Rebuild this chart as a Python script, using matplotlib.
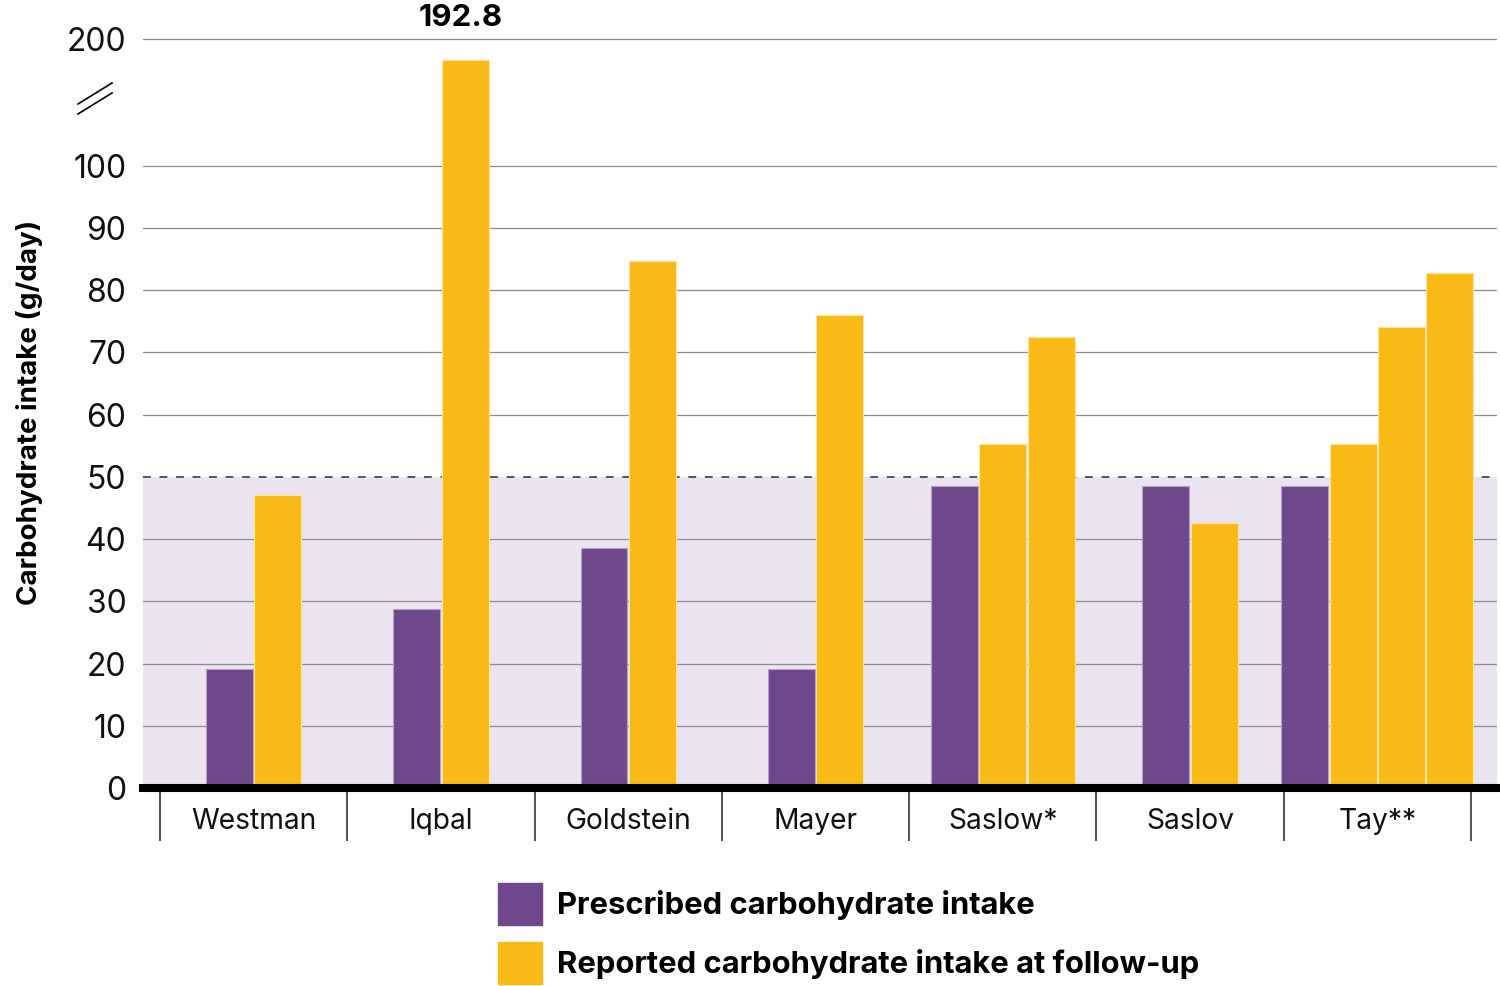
import numpy as np
import matplotlib.pyplot as plt
from matplotlib.patches import Patch
from matplotlib.lines import Line2D

studies = ['Westman', 'Iqbal', 'Goldstein', 'Mayer', 'Saslow*', 'Saslov', 'Tay**']
prescribed = [19.1, 28.7, 38.6, 19.1, 48.5, 48.5, 48.5]
reported = [[47.1], [192.8], [84.7], [76.0], [55.3, 72.5], [42.5], [55.3, 74.1, 82.7]]
yticks = [0, 10, 20, 30, 40, 50, 60, 70, 80, 90, 100, 200]
cutoff = 50

purple = '#6f478d'
yellow = '#fbb916'
shade = '#eae4f0'

plt.rcParams['font.family'] = ['Inter', 'DejaVu Sans']

# broken axis: 100..157 is cut out, above that a squeezed linear part
CUT_LO, CUT_HI, EPS, K = 100.0, 157.0, 0.001, 0.472

def fwd(y):
    y = np.asarray(y, dtype=float)
    mid = CUT_LO + (y - CUT_LO) * EPS
    top = CUT_LO + (CUT_HI - CUT_LO) * EPS + (y - CUT_HI) * K
    return np.where(y <= CUT_LO, y, np.where(y <= CUT_HI, mid, top))

def inv(t):
    t = np.asarray(t, dtype=float)
    t_hi = CUT_LO + (CUT_HI - CUT_LO) * EPS
    mid = CUT_LO + (t - CUT_LO) / EPS
    top = CUT_HI + (t - t_hi) / K
    return np.where(t <= CUT_LO, t, np.where(t <= t_hi, mid, top))

fig = plt.figure(figsize=(15, 9.86), dpi=100)
ax = fig.add_axes([143 / 1500, 198 / 986, 1354 / 1500, 752 / 986])
ax.set_yscale('function', functions=(fwd, inv))
ax.set_ylim(0, 201)
ax.set_xlim(-0.591, 6.639)

ax.axhspan(0, cutoff, color=shade, zorder=0, lw=0)
for v in yticks[1:]:
    if v != cutoff:
        ax.axhline(v, color='#8c8c8c', lw=0.9, zorder=1)
ax.axhline(cutoff, color='#555555', lw=1.4, ls=(0, (4, 4.5)), zorder=1.5)

w = 0.25
step = 0.258
for i, (p, rep) in enumerate(zip(prescribed, reported)):
    vals = [p] + rep
    cols = [purple] + [yellow] * len(rep)
    edges = ['#b3a0c6'] + ['#fde3a0'] * len(rep)
    offs = (np.arange(len(vals)) - (len(vals) - 1) / 2) * step
    ax.bar(i + offs, vals, width=w, color=cols, edgecolor=edges, linewidth=0.8, zorder=3)
    if max(rep) > 100:
        j = int(np.argmax(rep)) + 1
        ax.annotate(f'{max(rep)}', xy=(i + offs[j], 200), xytext=(-3, 9),
                    textcoords='offset points', ha='center', va='baseline',
                    fontsize=22.5, fontweight='bold', annotation_clip=False)

ax.axhline(0, color='black', lw=5.8, zorder=4, clip_on=False)

for s in ax.spines.values():
    s.set_visible(False)

ax.set_yticks(yticks)
ax.set_yticklabels([str(t) for t in yticks])
ax.tick_params(axis='y', length=0, pad=12, labelsize=23, labelcolor='#111111')

ax.set_xticks(np.arange(len(studies)))
ax.set_xticklabels(studies)
ax.set_xticks(np.arange(len(studies) + 1) - 0.5, minor=True)
ax.tick_params(axis='x', which='major', length=0, pad=14.5, labelsize=20.3, labelcolor='#111111')
ax.tick_params(axis='x', which='minor', length=38, width=1.2, color='#333333')

ax.set_ylabel('Carbohydrate intake (g/day)', fontsize=20, fontweight='bold')
ax.yaxis.set_label_coords(-0.0739, 0.5)

# break marks on the y axis
for dy in (0, 10):
    fig.add_artist(Line2D([78 / 1500, 112 / 1500], [1 - (104 + dy) / 986, 1 - (83 + dy) / 986],
                          transform=fig.transFigure, color='black', lw=1.2))

handles = [Patch(color=purple, label='Prescribed carbohydrate intake'),
           Patch(color=yellow, label='Reported carbohydrate intake at follow-up')]
fig.legend(handles=handles, loc='upper left', bbox_to_anchor=(498 / 1500, 1 - 883 / 986),
           frameon=False, prop={'weight': 'bold', 'size': 22.3},
           handlelength=1.42, handleheight=1.71, handletextpad=0.5,
           labelspacing=0.56, borderpad=0, borderaxespad=0)

fig.savefig('out.png', dpi=100)
